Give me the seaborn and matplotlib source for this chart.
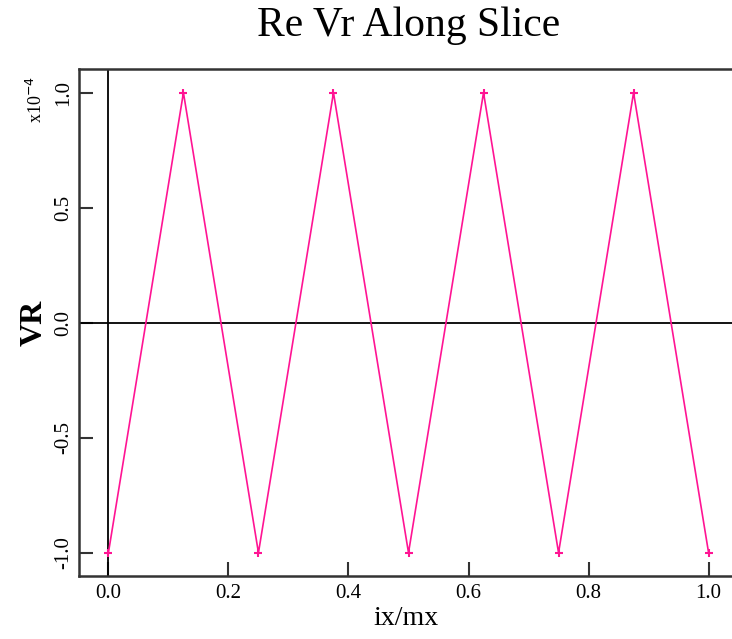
import matplotlib
matplotlib.use("Agg")
import matplotlib.pyplot as plt
import seaborn as sns
import pandas as pd
import numpy as np

# Data
ix_mx = [0.0, 0.125, 0.25, 0.375, 0.5, 0.625, 0.75, 0.875, 1.0]
vr = [-1.0e-4, 1.0e-4, -1.0e-4, 1.0e-4, -1.0e-4, 1.0e-4, -1.0e-4, 1.0e-4, -1.0e-4]
x_ticks = [0.0, 0.2, 0.4, 0.6, 0.8, 1.0]
x_tick_labels = ["0.0", "0.2", "0.4", "0.6", "0.8", "1.0"]
y_ticks = [-1.0e-4, -0.5e-4, 0.0, 0.5e-4, 1.0e-4]
y_tick_labels = ["-1.0", "-0.5", "0.0", "0.5", "1.0"]

sns.set_theme(style="ticks")
plt.rcParams['font.family'] = ['Liberation Serif', 'DejaVu Serif']
plt.rcParams['text.color'] = 'black'
plt.rcParams['axes.labelcolor'] = 'black'
plt.rcParams['xtick.color'] = '#222222'
plt.rcParams['ytick.color'] = '#222222'

df = pd.DataFrame({"ix/mx": ix_mx, "VR": vr})

fig = plt.figure(figsize=(7.32, 6.39), dpi=100)
ax = fig.add_axes([79/732, 1 - 576/639, 1 - 79/732, (576 - 69)/639])

ax.axhline(0, color="black", lw=1.3, zorder=1)
ax.axvline(0, color="black", lw=1.3, zorder=1)

sns.lineplot(data=df, x="ix/mx", y="VR", ax=ax, color="#ff1493", lw=1.2,
             marker="+", markersize=6, markeredgewidth=1.5, markeredgecolor="#ff1493",
             zorder=3)

ax.set_xlim(-0.049, 1.039)
ax.set_ylim(-1.101e-4, 1.103e-4)

ax.set_xticks(x_ticks)
ax.set_xticklabels(x_tick_labels, fontsize=15, color="black")
ax.set_yticks(y_ticks)
ax.set_yticklabels(y_tick_labels, fontsize=15, rotation=90, va="center", color="black")

ax.tick_params(direction="in", length=10, width=1.5, color="#333333")
ax.tick_params(axis="y", pad=4)
ax.tick_params(axis="x", pad=6)

for side in ["left", "bottom", "top"]:
    ax.spines[side].set_linewidth(1.8)
    ax.spines[side].set_color("#333333")
ax.spines["right"].set_visible(False)

ax.set_xlabel("ix/mx", fontsize=20, labelpad=2)
ax.set_ylabel("VR", fontsize=23, fontweight="bold", labelpad=4)
fig.suptitle("Re Vr Along Slice", fontsize=30, x=409/732, y=0.99, color="black")

fig.text(36/732, 1 - 100/639, r"x10$^{-4}$", rotation=90, fontsize=13,
         ha="center", va="center")

fig.savefig("out.png", dpi=100)
